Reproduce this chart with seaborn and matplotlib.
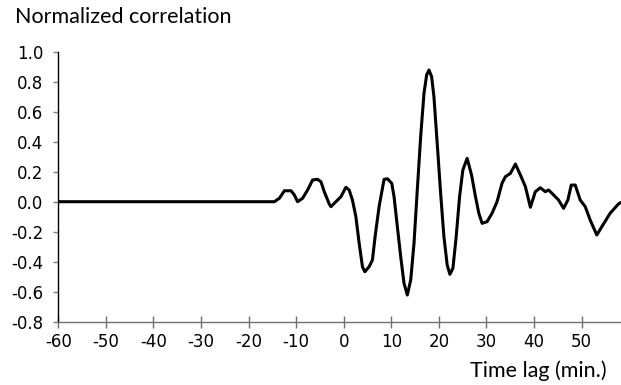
import matplotlib
matplotlib.use("Agg")
import matplotlib.pyplot as plt
import seaborn as sns
import pandas as pd

time_lag = [-60, -14.57, -13.52, -12.47, -11.07, -10.38, -9.69, -8.64, -7.59, -6.54, -5.49, -4.78,
            -4.09, -3.04, -2.68, -1.64, -0.59, 0.46, 1.15, 1.84, 2.56, 3.25, 3.94, 4.44, 5.35,
            6.04, 6.6, 7.44, 8.49, 9.2, 10.1, 10.59, 11.28, 11.99, 12.68, 13.38, 14.09, 14.78,
            15.47, 16.18, 16.88, 17.44, 17.93, 18.49, 18.97, 19.66, 20.38, 21.07, 21.76, 22.33,
            22.96, 23.65, 24.36, 25.05, 25.95, 26.88, 27.71, 28.41, 29.1, 30.15, 31.19, 32.24,
            33.29, 34.0, 35.05, 36.1, 37.15, 38.2, 39.25, 40.29, 41.34, 42.39, 43.08, 44.13,
            45.18, 46.23, 47.13, 47.84, 48.68, 49.73, 50.78, 51.82, 53.21, 54.26, 56.02, 57.76,
            58.3]
correlation = [0, 0, 0.023, 0.073, 0.073, 0.045, 0, 0.023, 0.078, 0.145, 0.149, 0.133,
               0.067, -0.015, -0.033, 0, 0.033, 0.096, 0.078, 0.011, -0.1, -0.277, -0.433, -0.467, -0.433,
               -0.389, -0.233, -0.033, 0.149, 0.153, 0.123, 0.033, -0.167, -0.367, -0.544, -0.622, -0.522, -0.277,
               0.078, 0.433, 0.723, 0.845, 0.878, 0.833, 0.7, 0.389, 0.056, -0.233, -0.422, -0.484,
               -0.444, -0.233, 0.033, 0.211, 0.289, 0.178, 0.033, -0.077, -0.144, -0.133, -0.077, 0,
               0.123, 0.167, 0.189, 0.251, 0.178, 0.1, -0.037, 0.067, 0.093, 0.067, 0.078, 0.045,
               0.011, -0.044, 0.011, 0.111, 0.111, 0.011, -0.033, -0.122, -0.222, -0.167, -0.077, -0.015,
               -0.005]

x_ticks = [-60, -50, -40, -30, -20, -10, 0, 10, 20, 30, 40, 50]
y_ticks = [-0.8, -0.6, -0.4, -0.2, 0.0, 0.2, 0.4, 0.6, 0.8, 1.0]

df = pd.DataFrame({"t": time_lag, "r": correlation})

sns.set_theme(style="white")
plt.rcParams["font.family"] = ["DejaVu Sans"]

fig = plt.figure(figsize=(6.21, 3.85), dpi=100)
ax = fig.add_axes([0.0939, 0.1644, 0.9061, 0.7013])
sns.lineplot(data=df, x="t", y="r", ax=ax, color="black", linewidth=2.2)
ax.lines[0].set_solid_joinstyle("round")

ax.set_xlim(-60, 58.3)
ax.set_ylim(-0.8, 1.0)
ax.set_xticks(x_ticks)
ax.set_xticklabels([str(v) for v in x_ticks])
ax.set_yticks(y_ticks)
ax.set_yticklabels([f"{v:.1f}" for v in y_ticks])
ax.set_xlabel("")
ax.set_ylabel("")

for s in ["top", "right"]:
    ax.spines[s].set_visible(False)
ax.spines["left"].set_color("black")
ax.spines["left"].set_linewidth(1.0)
ax.spines["bottom"].set_color("#707070")
ax.spines["bottom"].set_linewidth(1.0)

ax.tick_params(axis="x", direction="inout", length=8.4, width=1, color="#707070",
               labelsize=12, labelcolor="black", pad=4, bottom=True)
ax.tick_params(axis="y", direction="out", length=3.6, width=1, color="#808080",
               labelsize=12, labelcolor="black", pad=7, left=True)

fig.text(15 / 621, 1 - 23.3 / 385, "Normalized correlation", fontsize=15.5,
         family=["Lato", "DejaVu Sans"], ha="left", va="baseline", color="black")
fig.text(607 / 621, 1 - 376.7 / 385, "Time lag (min.)", fontsize=15.5,
         family=["Lato", "DejaVu Sans"], ha="right", va="baseline", color="black")

fig.savefig("out.png", dpi=100)
